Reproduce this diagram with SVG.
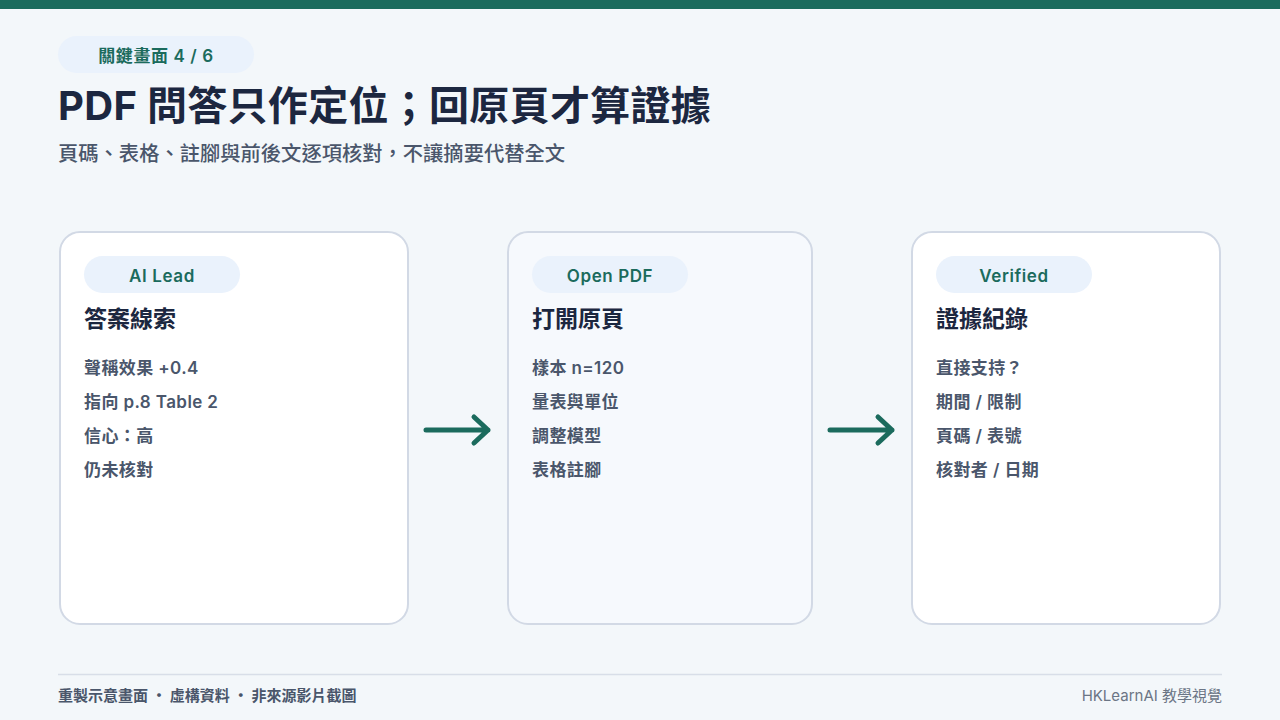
<svg xmlns="http://www.w3.org/2000/svg" width="1280" height="720" viewBox="0 0 1280 720">
<style>
.cjk{font-family:"Noto Sans CJK TC","Noto Sans",sans-serif}
.pill{fill:#eaf2fc}
.pilltxt{font-family:"Inter","Noto Sans CJK TC",sans-serif;font-size:17px;font-weight:600;fill:#1b6b5d;text-anchor:middle;letter-spacing:0.6px}
.card{stroke:#d2d9e5;stroke-width:2}
.head{font-family:"Noto Sans CJK TC",sans-serif;font-size:23px;font-weight:700;fill:#1c2740}
.item{font-family:"Inter","Noto Sans CJK TC",sans-serif;font-size:17px;font-weight:600;fill:#4a566b;letter-spacing:0.4px}
.arrow{stroke:#1b6b5d;stroke-width:5;stroke-linecap:round;stroke-linejoin:round;fill:none}
</style>
<rect width="1280" height="720" fill="#f3f7fa"/>
<rect width="1280" height="9" fill="#1b6b5d"/>
<g id="header">
<rect x="58" y="36" width="196" height="37" rx="18.5" class="pill"/>
<text x="156" y="62" class="pilltxt">關鍵畫面 4 / 6</text>
<text x="58" y="120" font-family="Inter,'Noto Sans CJK TC',sans-serif" font-size="40" font-weight="700" fill="#1c2740" letter-spacing="0.3">PDF 問答只作定位；回原頁才算證據</text>
<text x="58" y="161" class="cjk" font-size="20.3" font-weight="500" fill="#4a566b">頁碼、表格、註腳與前後文逐項核對，不讓摘要代替全文</text>
</g>
<g id="connectors">
<path class="arrow" d="M426 430 H488 M474 417 L488 430 L474 443"/>
<path class="arrow" d="M830 430 H892 M878 417 L892 430 L878 443"/>
</g>
<g id="node-ai-lead">
<rect x="60" y="232" width="348" height="392" rx="20" fill="#ffffff" class="card"/>
<rect x="84" y="256" width="156" height="37" rx="18.5" class="pill"/>
<text x="162" y="282" class="pilltxt">AI Lead</text>
<text x="84" y="327" class="head">答案線索</text>
<text x="84" y="374" class="item">聲稱效果 +0.4</text>
<text x="84" y="408" class="item">指向 p.8 Table 2</text>
<text x="84" y="442" class="item">信心：高</text>
<text x="84" y="476" class="item">仍未核對</text>
</g>
<g id="node-open-pdf">
<rect x="508" y="232" width="304" height="392" rx="20" fill="#f6f9fd" class="card"/>
<rect x="532" y="256" width="156" height="37" rx="18.5" class="pill"/>
<text x="610" y="282" class="pilltxt">Open PDF</text>
<text x="532" y="327" class="head">打開原頁</text>
<text x="532" y="374" class="item">樣本 n=120</text>
<text x="532" y="408" class="item">量表與單位</text>
<text x="532" y="442" class="item">調整模型</text>
<text x="532" y="476" class="item">表格註腳</text>
</g>
<g id="node-verified">
<rect x="912" y="232" width="308" height="392" rx="20" fill="#ffffff" class="card"/>
<rect x="936" y="256" width="156" height="37" rx="18.5" class="pill"/>
<text x="1014" y="282" class="pilltxt">Verified</text>
<text x="936" y="327" class="head">證據紀錄</text>
<text x="936" y="374" class="item">直接支持？</text>
<text x="936" y="408" class="item">期間 / 限制</text>
<text x="936" y="442" class="item">頁碼 / 表號</text>
<text x="936" y="476" class="item">核對者 / 日期</text>
</g>
<g id="footer">
<line x1="58" y1="674.5" x2="1222" y2="674.5" stroke="#d8dee8" stroke-width="1.5"/>
<text x="58" y="701" class="cjk" font-size="15" font-weight="600" fill="#4a566b">重製示意畫面 · 虛構資料 · 非來源影片截圖</text>
<text x="1222" y="701" font-family="Inter,'Noto Sans CJK TC',sans-serif" font-size="15" fill="#6b7585" text-anchor="end">HKLearnAI 教學視覺</text>
</g>
</svg>
